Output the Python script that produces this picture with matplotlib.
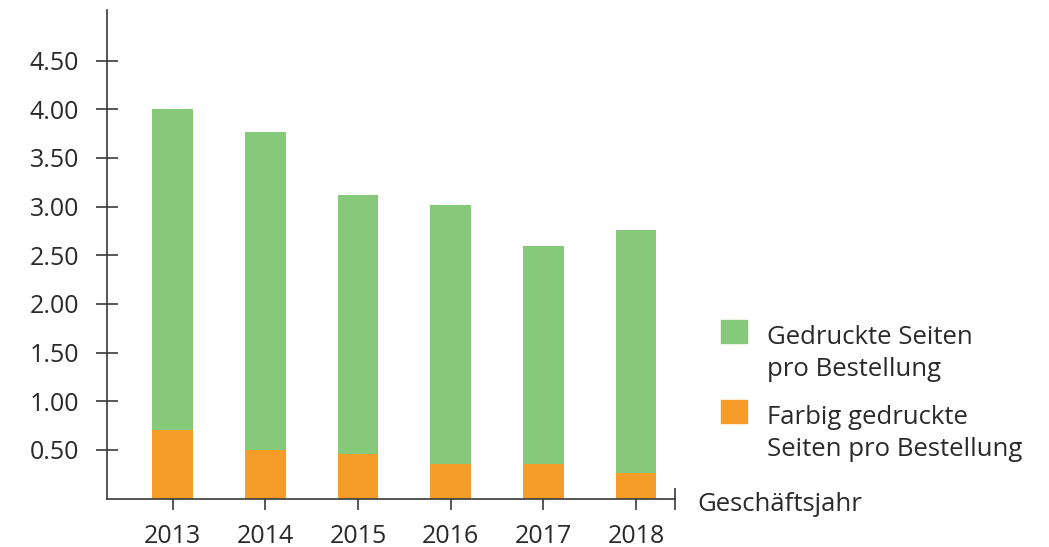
import matplotlib
matplotlib.use("Agg")
import matplotlib.pyplot as plt
from matplotlib.patches import Rectangle

years = ['2013', '2014', '2015', '2016', '2017', '2018']
pages_total = [4.00, 3.77, 3.12, 3.02, 2.60, 2.76]
pages_color = [0.70, 0.50, 0.46, 0.36, 0.36, 0.26]
yticks = [0.5, 1.0, 1.5, 2.0, 2.5, 3.0, 3.5, 4.0, 4.5]
legend_labels = ['Gedruckte Seiten\npro Bestellung', 'Farbig gedruckte\nSeiten pro Bestellung']

green = '#86c97a'
orange = '#f69c29'
dark = '#3a3a3a'
txt = '#2a2a2a'

plt.rcParams['font.family'] = ['Open Sans', 'DejaVu Sans']

W, H = 1049, 547
fig = plt.figure(figsize=(W / 100, H / 100), dpi=100)
ax_left, ax_right, ax_bottom, ax_top = 107, 675, 498.6, 10
ax = fig.add_axes([ax_left / W, (H - ax_bottom) / H,
                   (ax_right - ax_left) / W, (ax_bottom - ax_top) / H])

x = list(range(len(years)))
ax.bar(x, pages_total, width=0.44, color=green, zorder=2)
ax.bar(x, pages_color, width=0.44, color=orange, zorder=3)

ax.set_xlim(-0.71, 5.42)
ax.set_ylim(0, 5.02)

for s in ['top', 'right']:
    ax.spines[s].set_visible(False)
for s in ['left', 'bottom']:
    ax.spines[s].set_color(dark)
    ax.spines[s].set_linewidth(1.2)
    ax.spines[s].set_zorder(4)

ax.set_yticks(yticks)
ax.set_yticklabels(['%.2f' % v for v in yticks])
ax.set_xticks(x)
ax.set_xticklabels(years)
ax.set_xticks([5.42], minor=True)
ax.tick_params(axis='both', which='both', direction='inout', length=16,
               width=1.2, color=dark, labelcolor=txt, labelsize=18)
ax.tick_params(axis='y', pad=12)
ax.tick_params(axis='x', pad=10)
for t in ax.xaxis.get_major_ticks():
    t.tick1line.set_zorder(5)

ax.set_xlabel('Geschäftsjahr', fontsize=18.5, color=txt)
ax.xaxis.label.set_ha('left')
ax.xaxis.label.set_va('center')
ax.xaxis.set_label_coords((697 - ax_left) / (ax_right - ax_left), -0.012)

# legend drawn by hand so the swatch sits next to the first line
for col, lab, top in zip([green, orange], legend_labels, [320, 400]):
    fig.add_artist(Rectangle((721 / W, 1 - (top + 23) / H), 26 / W, 23 / H,
                             transform=fig.transFigure, color=col))
    fig.text(767 / W, 1 - (top + 5) / H, lab, ha='left', va='top',
             fontsize=18.5, color=txt, linespacing=1.38)

fig.savefig('out.png', dpi=100)
